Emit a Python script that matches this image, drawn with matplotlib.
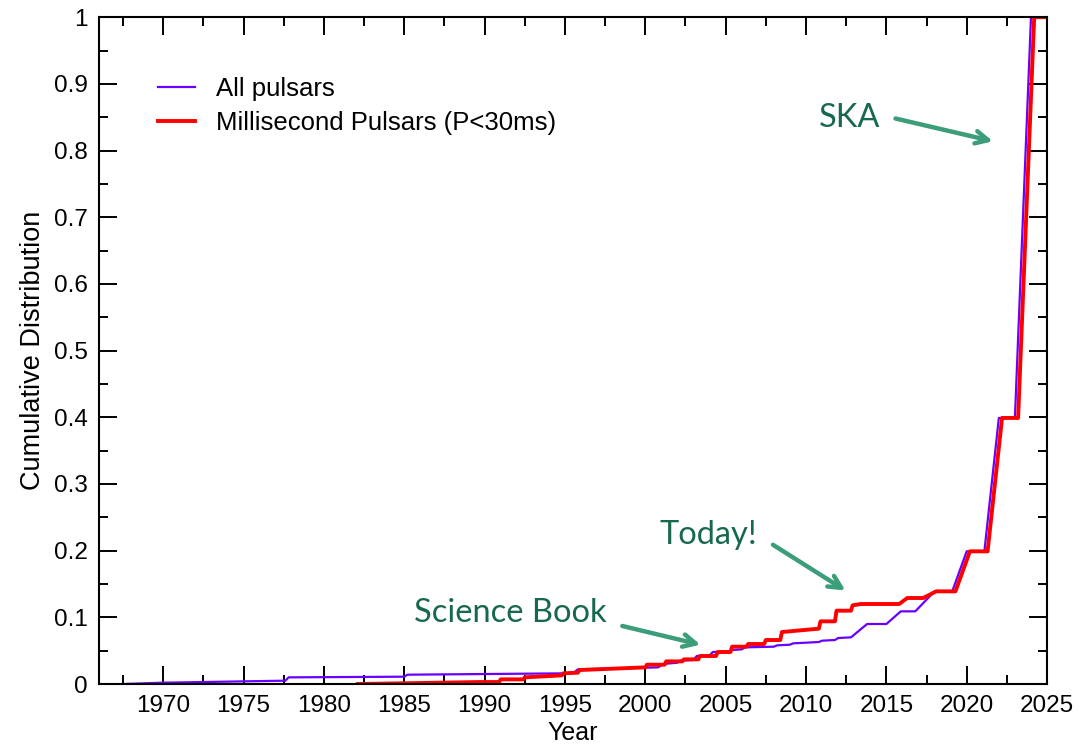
import matplotlib.pyplot as plt
from matplotlib.ticker import MultipleLocator

# cumulative fraction of known pulsars vs. discovery year (corner points of the curves)
all_years = [1967.5, 1970.0, 1975.0, 1977.6, 1977.8, 1985.0, 1985.2, 1990.0, 1995.0,
             1995.6, 1995.8, 2000.8, 2001.1, 2002.0, 2002.2, 2003.0, 2003.2, 2004.0,
             2004.2, 2005.2, 2005.4, 2006.0, 2006.2, 2008.0, 2008.2, 2009.0, 2009.2,
             2010.8, 2011.0, 2011.8, 2012.0, 2012.8, 2013.8, 2015.0, 2015.9, 2016.8,
             2018.0, 2019.1, 2020.0, 2021.1, 2022.0, 2023.0, 2024.0, 2025.0]
all_cdf = [0.000, 0.002, 0.004, 0.005, 0.010, 0.011, 0.014, 0.015, 0.016,
           0.018, 0.022, 0.025, 0.030, 0.032, 0.035, 0.036, 0.042, 0.043,
           0.048, 0.049, 0.051, 0.052, 0.055, 0.056, 0.058, 0.059, 0.061,
           0.063, 0.065, 0.066, 0.069, 0.070, 0.090, 0.090, 0.109, 0.109,
           0.139, 0.139, 0.199, 0.199, 0.399, 0.399, 1.000, 1.000]

msp_years = [1982.1, 1989.7, 1990.9, 1991.0, 1992.4, 1992.5, 1994.8, 1994.9, 1995.8,
             1995.9, 2000.0, 2000.1, 2001.2, 2001.3, 2002.3, 2002.4, 2003.3, 2003.4,
             2004.4, 2004.5, 2005.3, 2005.4, 2006.3, 2006.4, 2007.4, 2007.5, 2008.4,
             2008.5, 2010.8, 2010.9, 2011.8, 2011.9, 2012.8, 2012.9, 2013.4, 2015.8,
             2016.3, 2017.3, 2018.1, 2019.3, 2020.2, 2021.3, 2022.2, 2023.2, 2024.2,
             2025.0]
msp_cdf = [0.000, 0.003, 0.003, 0.007, 0.007, 0.010, 0.013, 0.016, 0.017,
           0.021, 0.025, 0.029, 0.029, 0.034, 0.034, 0.037, 0.037, 0.042,
           0.042, 0.048, 0.048, 0.056, 0.056, 0.060, 0.060, 0.066, 0.066,
           0.078, 0.083, 0.094, 0.094, 0.110, 0.110, 0.118, 0.120, 0.120,
           0.129, 0.129, 0.139, 0.139, 0.199, 0.199, 0.399, 0.399, 1.000,
           1.000]

notes = ["SKA", "Today!", "Science Book"]
note_text_xy = [(2012.7, 0.849), (2003.9, 0.223), (1991.6, 0.106)]
note_tail_xy = [(2015.4, 0.849), (2007.8, 0.211), (1998.4, 0.088)]
note_head_xy = [(2021.8, 0.813), (2012.6, 0.138), (2003.6, 0.058)]

plt.rcParams['font.family'] = ['Liberation Sans', 'DejaVu Sans']

fig = plt.figure(figsize=(10.83, 7.47), dpi=100)
ax = fig.add_axes([0.0914, 0.0843, 0.8754, 0.8927])

ax.plot(all_years, all_cdf, color='#6a00ff', lw=1.6, label='All pulsars')
ax.plot(msp_years, msp_cdf, color='#ff0000', lw=2.8, label='Millisecond Pulsars (P<30ms)')

green_txt = '#17684c'
green_arrow = '#3c9e78'
for txt, pos, tail, head in zip(notes, note_text_xy, note_tail_xy, note_head_xy):
    ax.text(pos[0], pos[1], txt, color=green_txt, fontsize=23.5, family='Lato',
            ha='center', va='center')
    ax.annotate('', xy=head, xytext=tail,
                arrowprops=dict(arrowstyle='->,head_length=0.9,head_width=0.45',
                                color=green_arrow, lw=3.2))

ax.set_xlim(1966, 2025)
ax.set_ylim(0, 1)
ax.xaxis.set_major_locator(MultipleLocator(5))
ax.xaxis.set_minor_locator(MultipleLocator(2.5))
ax.yaxis.set_major_locator(MultipleLocator(0.1))
ax.yaxis.set_minor_locator(MultipleLocator(0.05))
ax.set_xticks(range(1970, 2030, 5))
ax.set_yticks([i / 10 for i in range(11)])
ax.set_yticklabels(['0'] + [f'{i / 10:.1f}' for i in range(1, 10)] + ['1'])

ax.tick_params(which='both', direction='in', top=True, right=True, width=1.4,
               labelsize=17.5, pad=8)
ax.tick_params(which='major', length=13)
ax.tick_params(which='minor', length=6.5)
for s in ax.spines.values():
    s.set_linewidth(1.5)

ax.set_xlabel('Year', fontsize=18, labelpad=3)
ax.set_ylabel('Cumulative Distribution', fontsize=19.5, labelpad=6)

ax.legend(loc='upper left', bbox_to_anchor=(0.038, 0.945), frameon=False,
          fontsize=18.5, handlelength=1.45, handletextpad=0.8, labelspacing=0.38)

fig.savefig('out.png', dpi=100)
